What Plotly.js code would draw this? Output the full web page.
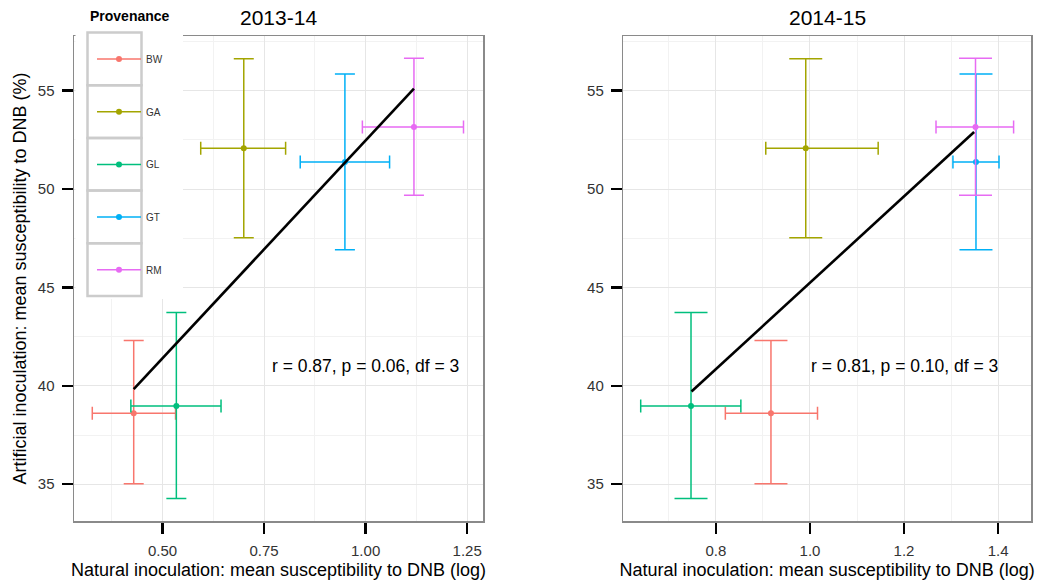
<!DOCTYPE html>
<html><head><meta charset="utf-8">
<script src="https://cdn.plot.ly/plotly-3.0.1.min.js"></script>
<style>html,body{margin:0;padding:0;background:#fff}#chart{width:1048px;height:587px}</style>
</head><body><div id="chart"></div>
<script>
// ---- data ----
const provenances = ['BW', 'GA', 'GL', 'GT', 'RM'];
const colors = ['#F8766D', '#A3A500', '#00BF7D', '#00B0F6', '#E76BF3'];

// Artificial inoculation (%) – same for both seasons
const yMean = [38.61, 52.07, 38.98, 51.38, 53.16];
const yLo   = [35.02, 47.53, 34.27, 46.92, 49.68];
const yHi   = [42.30, 56.62, 43.73, 55.85, 56.65];

// Natural inoculation 2013-14
const x13   = [0.429, 0.700, 0.534, 0.949, 1.119];
const x13Lo = [0.327, 0.594, 0.422, 0.839, 0.992];
const x13Hi = [0.532, 0.803, 0.644, 1.059, 1.241];

// Natural inoculation 2014-15
const x14   = [0.917, 0.991, 0.747, 1.353, 1.352];
const x14Lo = [0.820, 0.906, 0.640, 1.304, 1.268];
const x14Hi = [1.016, 1.145, 0.853, 1.402, 1.433];

// fitted regression lines
const fit13X = [0.429, 1.119], fit13Y = [39.83, 55.11];
const fit14X = [0.748, 1.349], fit14Y = [39.71, 52.90];

// correlation labels
const statText = ['r = 0.87, p = 0.06, df = 3', 'r = 0.81, p = 0.10, df = 3'];
const statX = [1.0, 1.2], statY = [41, 41];
const panelTitles = ['2013-14', '2014-15'];
const xTitle = 'Natural inoculation: mean susceptibility to DNB (log)';
const yTitle = 'Artificial inoculation: mean susceptibility to DNB (%)';
const legendTitle = 'Provenance';

// ---- layout helpers ----
const W = 1048, H = 587, ML = 74, MR = 17, MT = 36, MB = 66;
const PW = W - ML - MR, PH = H - MT - MB;
const px2x = p => (p - ML) / PW;
const py2y = p => (H - MB - p) / PH;
const FONT = 'Liberation Sans, Arial, Helvetica, sans-serif';

const traces = [];
function addPanel(xs, xlo, xhi, xa, ya, capY, showLeg) {
  provenances.forEach((p, i) => {
    traces.push({
      type: 'scatter', mode: 'lines+markers', name: p,
      x: [xs[i]], y: [yMean[i]], xaxis: xa, yaxis: ya,
      legendgroup: p, showlegend: showLeg,
      marker: {color: colors[i], size: 6},
      line: {color: colors[i], width: 1.5},
      error_x: {type: 'data', symmetric: false, array: [xhi[i] - xs[i]], arrayminus: [xs[i] - xlo[i]],
                color: colors[i], thickness: 1.5, width: 6.5},
      error_y: {type: 'data', symmetric: false, array: [yHi[i] - yMean[i]], arrayminus: [yMean[i] - yLo[i]],
                color: colors[i], thickness: 1.5, width: capY},
      hoverinfo: 'x+y+name'
    });
  });
}
addPanel(x13, x13Lo, x13Hi, 'x', 'y', 10, true);
addPanel(x14, x14Lo, x14Hi, 'x2', 'y2', 16.5, false);
traces.push({type: 'scatter', mode: 'lines', x: fit13X, y: fit13Y, xaxis: 'x', yaxis: 'y',
  line: {color: '#000', width: 2.6}, showlegend: false, hoverinfo: 'skip'});
traces.push({type: 'scatter', mode: 'lines', x: fit14X, y: fit14Y, xaxis: 'x2', yaxis: 'y2',
  line: {color: '#000', width: 2.6}, showlegend: false, hoverinfo: 'skip'});

const axBase = {
  showline: true, mirror: true, linecolor: '#8a8a8a', linewidth: 1.5,
  ticks: 'outside', ticklen: 11, tickwidth: 2.5, tickcolor: '#000',
  showgrid: true, gridcolor: '#e6e6e6', gridwidth: 1, zeroline: false,
  tickfont: {size: 15, color: '#333', family: FONT}, ticklabelstandoff: 4,
  automargin: false
};
const yRange = [33.13, 57.78];

const shapes = [];
// legend background
shapes.push({type: 'rect', xref: 'paper', yref: 'paper', layer: 'above',
  x0: px2x(75.5), x1: px2x(183), y0: py2y(299), y1: py2y(0),
  fillcolor: '#fff', line: {width: 0}});
for (let i = 0; i < provenances.length; i++) {
  const top = 32.5 + i * 52.7;
  shapes.push({type: 'rect', xref: 'paper', yref: 'paper', layer: 'above',
    x0: px2x(87.5), x1: px2x(141.5), y0: py2y(top + 52.7), y1: py2y(top),
    fillcolor: 'rgba(0,0,0,0)', line: {color: '#cccccc', width: 2.5}});
}

const annotations = [
  {text: panelTitles[0], xref: 'paper', yref: 'paper', x: px2x(278.5), y: py2y(18),
   xanchor: 'center', yanchor: 'middle', showarrow: false, font: {size: 21, color: '#000', family: FONT}},
  {text: panelTitles[1], xref: 'paper', yref: 'paper', x: px2x(827), y: py2y(18),
   xanchor: 'center', yanchor: 'middle', showarrow: false, font: {size: 21, color: '#000', family: FONT}},
  {text: statText[0], xref: 'x', yref: 'y', x: statX[0], y: statY[0], showarrow: false,
   xanchor: 'center', yanchor: 'middle', font: {size: 17.5, color: '#000', family: FONT}},
  {text: statText[1], xref: 'x2', yref: 'y2', x: statX[1], y: statY[1], showarrow: false,
   xanchor: 'center', yanchor: 'middle', font: {size: 17.5, color: '#000', family: FONT}},
  {text: '<b>' + legendTitle + '</b>', xref: 'paper', yref: 'paper', x: px2x(88), y: py2y(15.7),
   xanchor: 'left', yanchor: 'middle', showarrow: false, font: {size: 14, color: '#000', family: FONT}}
];

const layout = {
  width: W, height: H,
  margin: {l: ML, r: MR, t: MT, b: MB, pad: 0},
  paper_bgcolor: '#fff', plot_bgcolor: '#fff',
  font: {family: FONT, color: '#000'},
  showlegend: true,
  legend: {x: px2x(92), y: py2y(44.5), xanchor: 'left', yanchor: 'top',
    bgcolor: 'rgba(0,0,0,0)', borderwidth: 0, traceorder: 'grouped', tracegroupgap: 33.7,
    itemwidth: 44, font: {size: 10, color: '#333', family: FONT}},
  xaxis: Object.assign({}, axBase, {domain: [0, px2x(483)], anchor: 'y', range: [0.282, 1.289],
    tick0: 0, dtick: 0.25, tickformat: '.2f',
    minor: {tick0: 0, dtick: 0.125, showgrid: true, gridcolor: '#f2f2f2', gridwidth: 1, ticks: ''},
    title: {text: xTitle, font: {size: 18, color: '#000', family: FONT}, standoff: 6}}),
  yaxis: Object.assign({}, axBase, {domain: [0, 1], anchor: 'x', range: yRange,
    tick0: 0, dtick: 5,
    minor: {tick0: 0, dtick: 2.5, showgrid: true, gridcolor: '#f2f2f2', gridwidth: 1, ticks: ''},
    title: {text: yTitle, font: {size: 18, color: '#000', family: FONT}, standoff: 6}}),
  xaxis2: Object.assign({}, axBase, {domain: [px2x(623.3), 1], anchor: 'y2', range: [0.603, 1.470],
    tick0: 0, dtick: 0.2, tickformat: '.1f',
    minor: {tick0: 0, dtick: 0.1, showgrid: true, gridcolor: '#f2f2f2', gridwidth: 1, ticks: ''},
    title: {text: xTitle, font: {size: 18, color: '#000', family: FONT}, standoff: 6}}),
  yaxis2: Object.assign({}, axBase, {domain: [0, 1], anchor: 'x2', range: yRange,
    tick0: 0, dtick: 5,
    minor: {tick0: 0, dtick: 2.5, showgrid: true, gridcolor: '#f2f2f2', gridwidth: 1, ticks: ''}}),
  shapes: shapes,
  annotations: annotations
};

Plotly.newPlot('chart', traces, layout, {displayModeBar: false, staticPlot: true});
</script>
</body></html>
